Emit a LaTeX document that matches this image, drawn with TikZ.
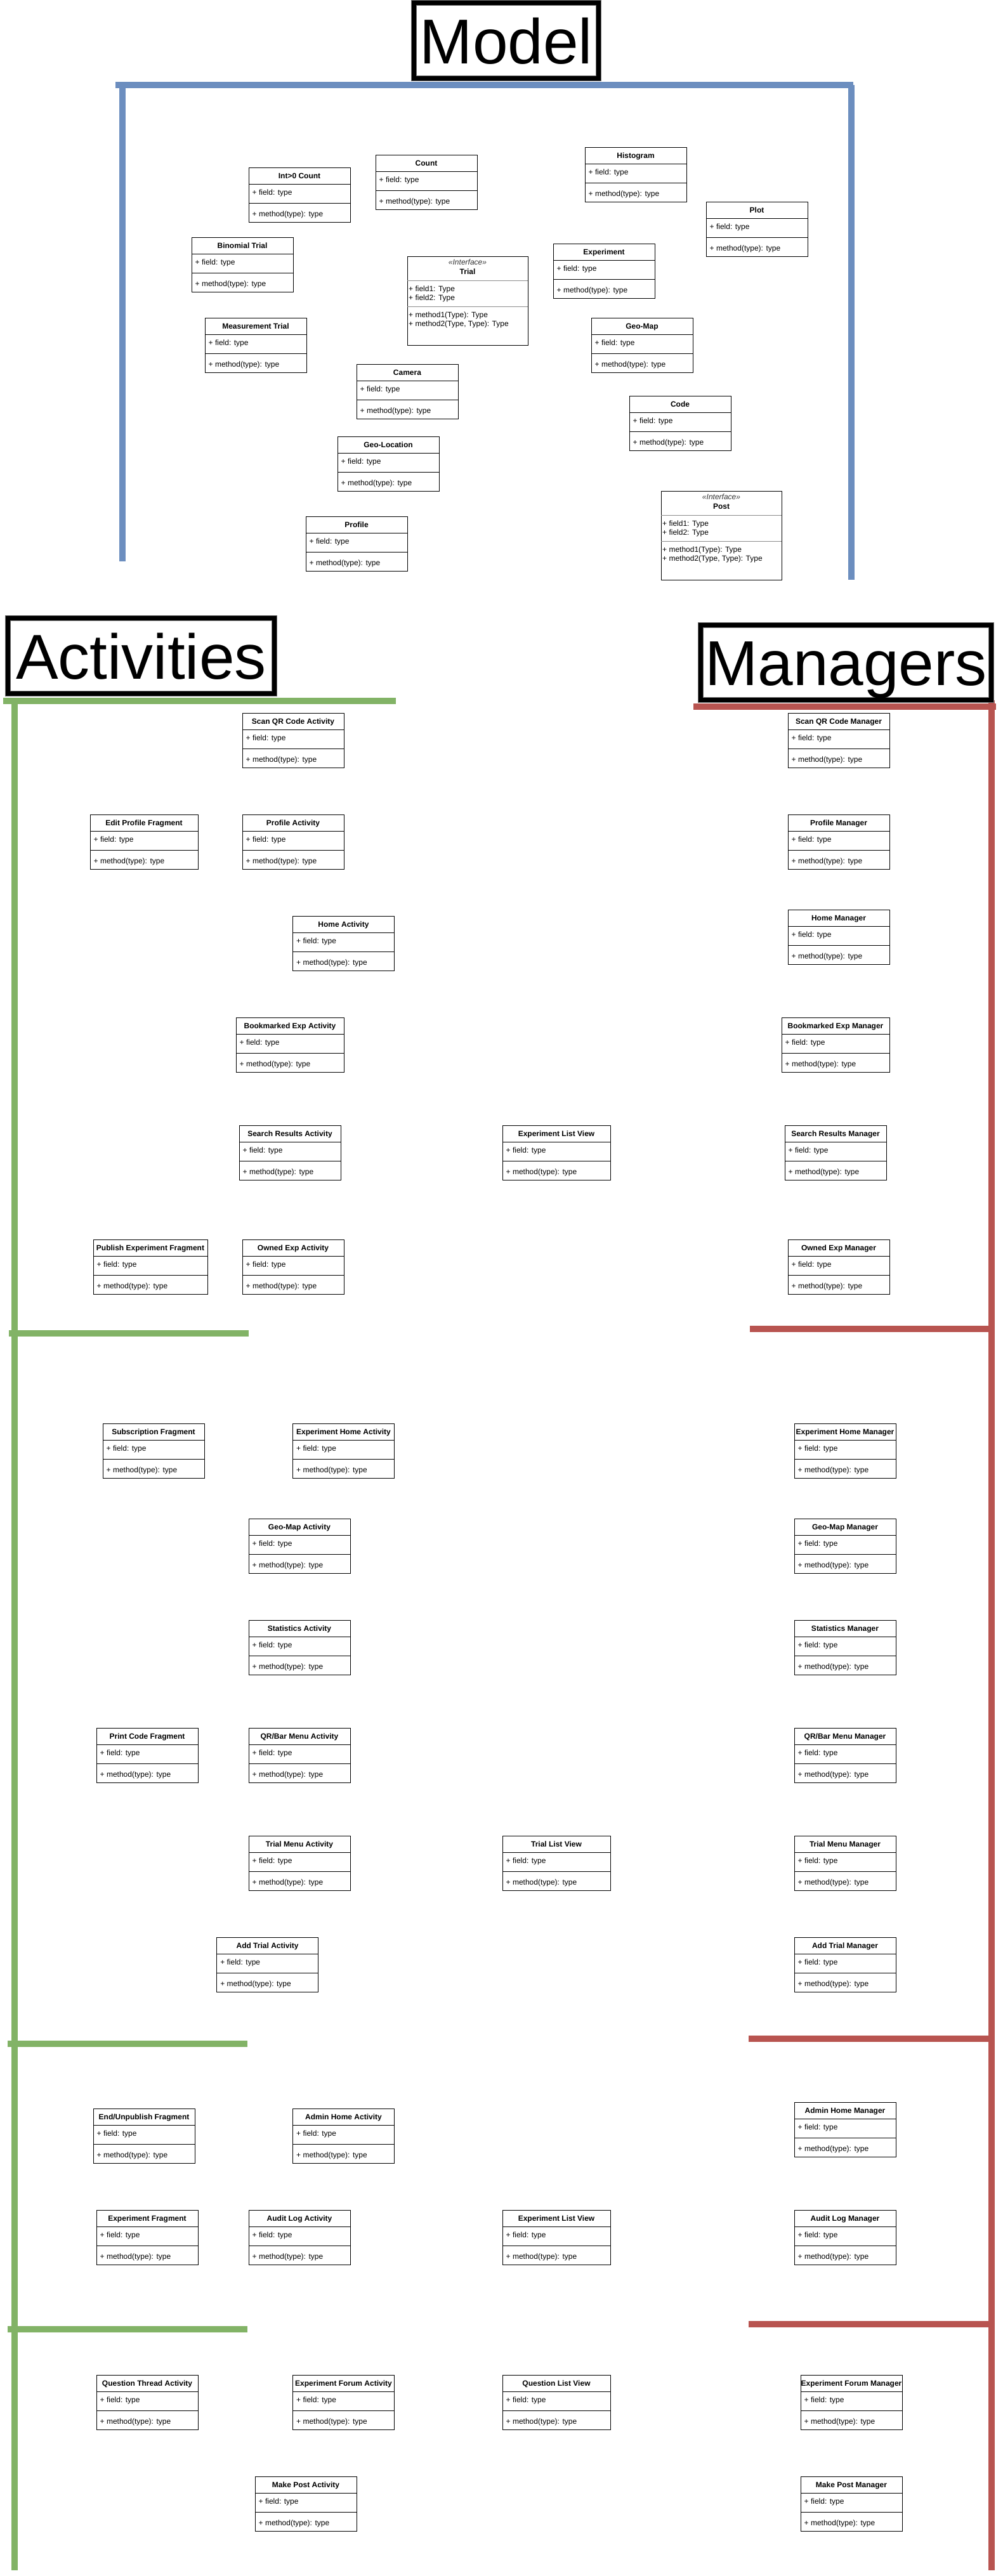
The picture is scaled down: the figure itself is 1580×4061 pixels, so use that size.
\documentclass[tikz,border=0pt]{standalone}
\usepackage{fontspec}
\setmainfont{Liberation Sans}
\definecolor{mblue}{HTML}{6C8EBF}
\definecolor{agreen}{HTML}{82B366}
\definecolor{mred}{HTML}{B85450}
\tikzset{
 umlframe/.style={draw=black, line width=1pt, fill=white, inner sep=0pt, outer sep=0pt, anchor=north west},
 umlsep/.style={draw=black, line width=1pt},
 ifsep/.style={draw=black!45, line width=1pt},
 umltitle/.style={font=\bfseries\fontsize{12}{14}\selectfont, inner sep=0pt, anchor=base},
 umlstereo/.style={font=\itshape\fontsize{12}{14}\selectfont, text=black!80, inner sep=0pt, anchor=base},
 umlrow/.style={font=\fontsize{12}{14}\selectfont, inner sep=0pt, anchor=base west},
 bigtitle/.style={font=\fontsize{100}{120}\selectfont, inner sep=0pt, anchor=base},
 titleframe/.style={draw=black!55, line width=9pt, inner sep=0pt, outer sep=0pt},
 titleinner/.style={draw=black, line width=7pt},
 bar/.style={line width=10pt, line cap=butt},
}
% name, x, y (top-left), width, title
\newcommand\umlbox[5]{%
 \node[umlframe, minimum width=#4pt, minimum height=86pt] (#1) at (#2,#3) {};
 \draw[umlsep] ([yshift=-26pt]#1.north west) -- ([yshift=-26pt]#1.north east);
 \draw[umlsep] ([yshift=-56pt]#1.north west) -- ([yshift=-56pt]#1.north east);
 \node[umltitle] (#1-t) at ([yshift=-17.7pt]#1.north) {#5};
 \node[umlrow] (#1-f) at ([xshift=5.5pt,yshift=-43.7pt]#1.north west) {+ field: type};
 \node[umlrow] (#1-m) at ([xshift=5.5pt,yshift=-77.7pt]#1.north west) {+ method(type): type};
}
% name, x, y (top-left), title
\newcommand\ifacebox[4]{%
 \node[umlframe, minimum width=190pt, minimum height=140pt] (#1) at (#2,#3) {};
 \draw[ifsep] ([yshift=-38pt]#1.north west) -- ([yshift=-38pt]#1.north east);
 \draw[ifsep] ([yshift=-79pt]#1.north west) -- ([yshift=-79pt]#1.north east);
 \node[umlstereo] (#1-s) at ([yshift=-13.3pt]#1.north) {<<Interface>>};
 \node[umltitle] (#1-t) at ([yshift=-28.3pt]#1.north) {#4};
 \node[umlrow] (#1-f1) at ([xshift=2pt,yshift=-55.7pt]#1.north west) {+ field1: Type};
 \node[umlrow] (#1-f2) at ([xshift=2pt,yshift=-69.7pt]#1.north west) {+ field2: Type};
 \node[umlrow] (#1-m1) at ([xshift=2pt,yshift=-96.7pt]#1.north west) {+ method1(Type): Type};
 \node[umlrow] (#1-m2) at ([xshift=2pt,yshift=-110.7pt]#1.north west) {+ method2(Type, Type): Type};
}
\begin{document}
\begin{tikzpicture}[x=1pt,y=-1pt]
\useasboundingbox (0,0) rectangle (1580,4061);
\fill[white] (0,0) rectangle (1580,4061);

% ---------- section bars ----------
\draw[bar, mblue] (182,134) -- (1345,134);
\draw[bar, mblue] (192.5,134) -- (192.5,885);
\draw[bar, mblue] (1342,134) -- (1342,914);

\draw[bar, agreen] (5,1104.5) -- (624,1104.5);
\draw[bar, agreen] (22.5,1104.5) -- (22.5,4052);
\draw[bar, agreen] (14,2102) -- (392,2102);
\draw[bar, agreen] (12,3222) -- (390,3222);
\draw[bar, agreen] (12,3672) -- (390,3672);

\draw[bar, mred] (1093,1114) -- (1570,1114);
\draw[bar, mred] (1563,1104) -- (1563,4052);
\draw[bar, mred] (1182,2094.5) -- (1563,2094.5);
\draw[bar, mred] (1180,3214) -- (1563,3214);
\draw[bar, mred] (1180,3664) -- (1563,3664);

% ---------- section titles ----------
\node[titleframe, minimum width=291pt, minimum height=119pt] (modelframe) at (798,64) {};
\draw[titleinner] (modelframe.south west) rectangle (modelframe.north east);
\node[bigtitle] (modellabel) at ([yshift=-36pt]modelframe.center) {Model};

\node[titleframe, minimum width=420pt, minimum height=119pt] (actframe) at (222.5,1034) {};
\draw[titleinner] (actframe.south west) rectangle (actframe.north east);
\node[bigtitle] (actlabel) at ([yshift=-36pt]actframe.center) {Activities};

\node[titleframe, minimum width=458pt, minimum height=118pt] (manframe) at (1333.5,1044.5) {};
\draw[titleinner] (manframe.south west) rectangle (manframe.north east);
\node[bigtitle] (manlabel) at ([yshift=-36pt]manframe.center) {Managers};

% ---------- Model ----------
\umlbox{intcount}{392}{264}{160}{Int>0 Count}
\umlbox{count}{592}{244}{160}{Count}
\umlbox{histogram}{922}{232}{160}{Histogram}
\umlbox{plot}{1113}{318}{160}{Plot}
\umlbox{binomial}{302}{374}{160}{Binomial Trial}
\umlbox{experiment}{872}{384}{160}{Experiment}
\umlbox{measurement}{323}{501}{160}{Measurement Trial}
\umlbox{geomap}{932}{501}{160}{Geo-Map}
\umlbox{camera}{562}{574}{160}{Camera}
\umlbox{code}{992}{624}{160}{Code}
\umlbox{geolocation}{532}{688}{160}{Geo-Location}
\umlbox{profile}{482}{814}{160}{Profile}
\ifacebox{trial}{642}{404}{Trial}
\ifacebox{post}{1042}{774}{Post}

% ---------- Activities ----------
\umlbox{scanqra}{382}{1124}{160}{Scan QR Code Activity}
\umlbox{editprofile}{142}{1284}{170}{Edit Profile Fragment}
\umlbox{profilea}{382}{1284}{160}{Profile Activity}
\umlbox{homea}{461.5}{1444}{160}{Home Activity}
\umlbox{bookmarkeda}{372}{1604}{170}{Bookmarked Exp Activity}
\umlbox{searcha}{377}{1774}{160}{Search Results Activity}
\umlbox{explista}{792}{1774}{170}{Experiment List View}
\umlbox{publish}{147}{1954}{180}{Publish Experiment Fragment}
\umlbox{owneda}{382}{1954}{160}{Owned Exp Activity}
\umlbox{subscription}{162}{2244}{160}{Subscription Fragment}
\umlbox{exphomea}{461.5}{2244}{160}{Experiment Home Activity}
\umlbox{geomapa}{392}{2394}{160}{Geo-Map Activity}
\umlbox{statsa}{392}{2554}{160}{Statistics Activity}
\umlbox{printcode}{152}{2724}{160}{Print Code Fragment}
\umlbox{qrbara}{392}{2724}{160}{QR/Bar Menu Activity}
\umlbox{trialmenua}{392}{2894}{160}{Trial Menu Activity}
\umlbox{triallist}{792}{2894}{170}{Trial List View}
\umlbox{addtriala}{341.6}{3054}{160}{Add Trial Activity}
\umlbox{endunpub}{147}{3324}{160}{End/Unpublish Fragment}
\umlbox{adminhomea}{461.5}{3324}{160}{Admin Home Activity}
\umlbox{expfrag}{152}{3484}{160}{Experiment Fragment}
\umlbox{auditloga}{392}{3484}{160}{Audit Log Activity}
\umlbox{explistb}{792}{3484}{170}{Experiment List View}
\umlbox{questionthread}{152}{3744}{160}{Question Thread Activity}
\umlbox{expforuma}{461.5}{3744}{160}{Experiment Forum Activity}
\umlbox{questionlist}{792}{3744}{170}{Question List View}
\umlbox{makeposta}{402}{3904}{160}{Make Post Activity}

% ---------- Managers ----------
\umlbox{scanqrm}{1242}{1124}{160}{Scan QR Code Manager}
\umlbox{profilem}{1242}{1284}{160}{Profile Manager}
\umlbox{homem}{1242}{1434}{160}{Home Manager}
\umlbox{bookmarkedm}{1232}{1604}{170}{Bookmarked Exp Manager}
\umlbox{searchm}{1237}{1774}{160}{Search Results Manager}
\umlbox{ownedm}{1242}{1954}{160}{Owned Exp Manager}
\umlbox{exphomem}{1252}{2244}{160}{Experiment Home Manager}
\umlbox{geomapm}{1252}{2394}{160}{Geo-Map Manager}
\umlbox{statsm}{1252}{2554}{160}{Statistics Manager}
\umlbox{qrbarm}{1252}{2724}{160}{QR/Bar Menu Manager}
\umlbox{trialmenum}{1252}{2894}{160}{Trial Menu Manager}
\umlbox{addtrialm}{1252}{3054}{160}{Add Trial Manager}
\umlbox{adminhomem}{1252}{3314}{160}{Admin Home Manager}
\umlbox{auditlogm}{1252}{3484}{160}{Audit Log Manager}
\umlbox{expforumm}{1262}{3744}{160}{Experiment Forum Manager}
\umlbox{makepostm}{1262}{3904}{160}{Make Post Manager}
\end{tikzpicture}
\end{document}
